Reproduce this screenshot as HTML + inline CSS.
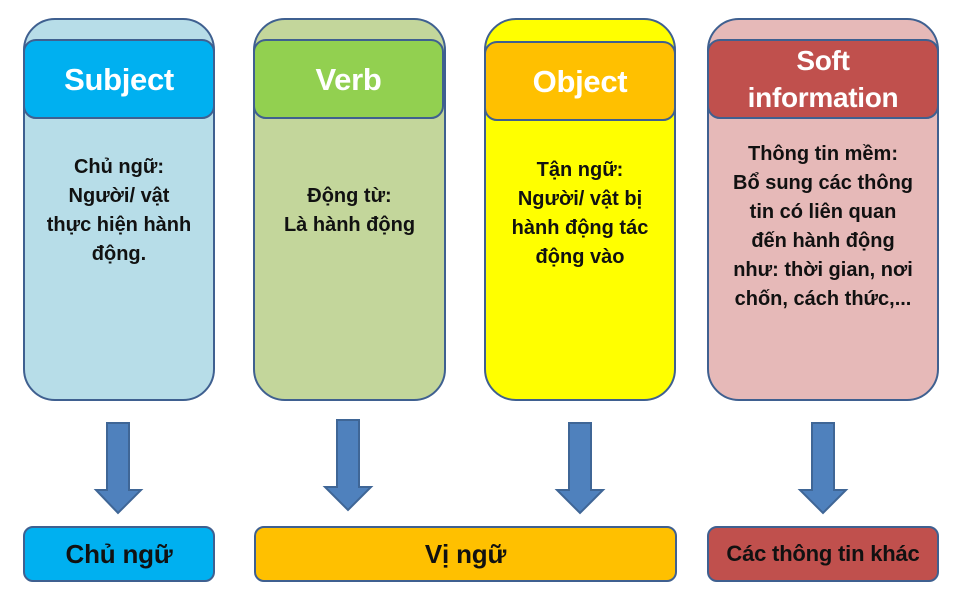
<!DOCTYPE html>
<html><head><meta charset="utf-8"><style>
body{margin:0;width:953px;height:595px;background:#fff;position:relative;overflow:hidden;font-family:"Liberation Sans",sans-serif;font-weight:bold;}
.b{position:absolute;box-sizing:border-box;border:2.5px solid #3f6090;}
.o{border-radius:32px;}
.h{border-radius:13px;color:#fff;font-size:31px;text-align:center;display:flex;align-items:center;justify-content:center;line-height:37px;letter-spacing:-0.3px;}
.t{position:absolute;text-align:center;font-size:20px;line-height:29px;color:#111;letter-spacing:0px;}
.f{border-radius:10px;display:flex;align-items:center;justify-content:center;font-size:26px;color:#111;letter-spacing:-0.2px;}
svg{position:absolute;left:0;top:0;}
</style></head><body>
<div class="b o" style="left:23px;top:18px;width:192px;height:383px;background:#b7dde8"></div>
<div class="b h" style="left:23px;top:39px;width:192px;height:80px;background:#00b0f0">Subject</div>
<div class="t" style="left:13px;top:153px;width:212px">Chủ ngữ:<br>Người/ vật<br>thực hiện hành<br>động.</div>

<div class="b o" style="left:253px;top:18px;width:193px;height:383px;background:#c3d69b"></div>
<div class="b h" style="left:253px;top:39px;width:191px;height:80px;background:#92d050">Verb</div>
<div class="t" style="left:243px;top:182px;width:213px">Động từ:<br>Là hành động</div>

<div class="b o" style="left:484px;top:18px;width:192px;height:383px;background:#ffff00"></div>
<div class="b h" style="left:484px;top:41px;width:192px;height:80px;background:#ffc000">Object</div>
<div class="t" style="left:474px;top:156px;width:212px">Tận ngữ:<br>Người/ vật bị<br>hành động tác<br>động vào</div>

<div class="b o" style="left:707px;top:18px;width:232px;height:383px;background:#e6b9b8"></div>
<div class="b h" style="left:707px;top:39px;width:232px;height:80px;background:#c0504d;font-size:28px;line-height:37px">Soft<br>information</div>
<div class="t" style="left:697px;top:140px;width:252px">Thông tin mềm:<br>Bổ sung các thông<br>tin có liên quan<br>đến hành động<br>như: thời gian, nơi<br>chốn, cách thức,...</div>

<svg width="953" height="595">
<g fill="#4f81bd" stroke="#3f6696" stroke-width="2">
<polygon points="107,423 129,423 129,490 141,490 118,513 96,490 107,490"/>
<polygon points="337,420 359,420 359,487 371,487 348,510 325,487 337,487"/>
<polygon points="569,423 591,423 591,490 603,490 580,513 557,490 569,490"/>
<polygon points="812,423 834,423 834,490 846,490 823,513 800,490 812,490"/>
</g></svg>

<div class="b f" style="left:23px;top:526px;width:192px;height:56px;background:#00b0f0">Chủ ngữ</div>
<div class="b f" style="left:254px;top:526px;width:423px;height:56px;background:#ffc000">Vị ngữ</div>
<div class="b f" style="left:707px;top:526px;width:232px;height:56px;background:#c0504d;font-size:22px">Các thông tin khác</div>
</body></html>
